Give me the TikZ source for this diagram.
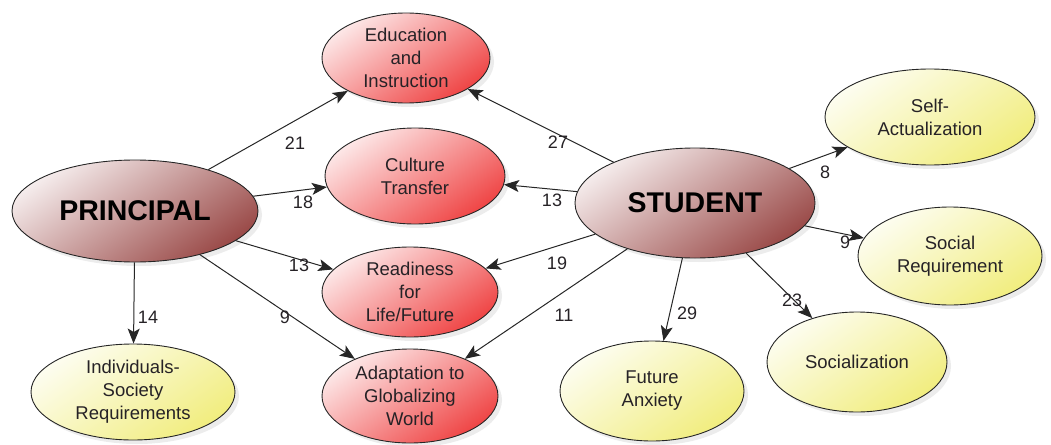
\documentclass[tikz,border=0pt]{standalone}
\usepackage{fontspec}
\setmainfont{Liberation Sans}
\usetikzlibrary{shapes.geometric,arrows.meta,shadows}
\definecolor{mainlight}{HTML}{F5ECEC}
\definecolor{mainmid}{HTML}{E0C6C4}
\definecolor{maindark}{HTML}{9A4A48}
\definecolor{redlight}{HTML}{FDE8E8}
\definecolor{redmid}{HTML}{F9ACAC}
\definecolor{reddark}{HTML}{EF4444}
\definecolor{yellight}{HTML}{FDFDF0}
\definecolor{yelmid}{HTML}{F9F8CC}
\definecolor{yeldark}{HTML}{F1ED7E}
\definecolor{txt}{HTML}{262226}
\begin{document}
\begin{tikzpicture}[x=1pt,y=-1pt,
  base/.style={ellipse, draw=black!85, line width=0.9pt, inner sep=0pt, align=center,
    font=\fontsize{18.5}{23}\selectfont, text=txt,
    drop shadow={opacity=0.15, shadow xshift=4pt, shadow yshift=-4pt}},
  mainnode/.style={base, shading=axis, top color=mainlight, middle color=mainmid, bottom color=maindark, shading angle=35,
    font=\bfseries\fontsize{28.5}{32}\selectfont, text=black},
  rednode/.style={base, shading=axis, top color=redlight, middle color=redmid, bottom color=reddark, shading angle=35},
  yelnode/.style={base, shading=axis, top color=yellight, middle color=yelmid, bottom color=yeldark, shading angle=35},
  conn/.style={draw=black!85, line width=1pt, -{Stealth[length=15pt,width=12pt,inset=3.5pt]}},
  lbl/.style={font=\fontsize{18}{20}\selectfont, text=txt, inner sep=0pt}
]
\useasboundingbox (0,0) rectangle (1051,444);

\node[mainnode, minimum width=246pt, minimum height=102pt] (P) at (135,211) {PRINCIPAL};
\node[mainnode, minimum width=240pt, minimum height=110pt] (S) at (695,203) {STUDENT};

\node[rednode, minimum width=168pt, minimum height=90pt] (E) at (406,58) {Education\\and\\Instruction};
\node[rednode, minimum width=180pt, minimum height=96pt] (C) at (415,176) {Culture\\Transfer};
\node[rednode, minimum width=176pt, minimum height=90pt] (R) at (410,292) {Readiness\\for\\Life/Future};
\node[rednode, minimum width=176pt, minimum height=94pt] (A) at (410,396) {Adaptation to\\Globalizing\\World};

\node[yelnode, minimum width=204pt, minimum height=96pt] (I) at (133,392) {Individuals-\\Society\\Requirements};
\node[yelnode, minimum width=184pt, minimum height=100pt] (F) at (652,391) {Future\\Anxiety};
\node[yelnode, minimum width=180pt, minimum height=100pt] (Z) at (857,362) {Socialization};
\node[yelnode, minimum width=210pt, minimum height=96pt] (SA) at (930,117) {Self-\\Actualization};
\node[yelnode, minimum width=184pt, minimum height=98pt] (SR) at (950,256) {Social\\Requirement};

\draw[conn] (P) -- (E);
\draw[conn] (P) -- (C);
\draw[conn] (P) -- (R);
\draw[conn] (P) -- (A);
\draw[conn] (P) -- (I);
\draw[conn] (S) -- (E);
\draw[conn] (S) -- (C);
\draw[conn] (S) -- (R);
\draw[conn] (S) -- (A);
\draw[conn] (S) -- (F);
\draw[conn] (S) -- (Z);
\draw[conn] (S) -- (SA);
\draw[conn] (S) -- (SR);

\node[lbl] (l21) at (295,143) {21};
\node[lbl] (l18) at (303,202) {18};
\node[lbl] (l13a) at (299,265) {13};
\node[lbl] (l9a) at (285,317) {9};
\node[lbl] (l14) at (148,317) {14};
\node[lbl] (l27) at (558,142) {27};
\node[lbl] (l13b) at (552,200) {13};
\node[lbl] (l19) at (557,263) {19};
\node[lbl] (l11) at (564,315) {11};
\node[lbl] (l29) at (687,313) {29};
\node[lbl] (l23) at (792,300) {23};
\node[lbl] (l8) at (825,172) {8};
\node[lbl] (l9b) at (845,242) {9};
\end{tikzpicture}
\end{document}
